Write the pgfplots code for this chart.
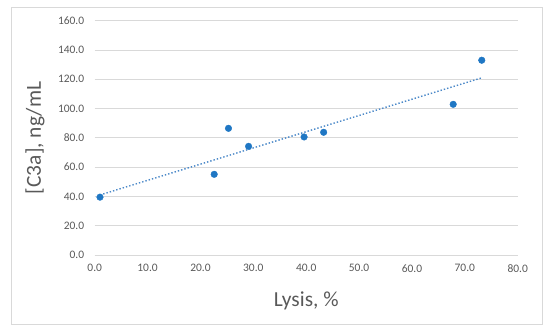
\documentclass[border=0pt]{standalone}
\usepackage{fontspec}
\setmainfont{Carlito}
\usepackage{pgfplots}
\pgfplotsset{compat=1.18}
\definecolor{pt}{HTML}{1F77C4}
\definecolor{trend}{HTML}{4A88C8}
\definecolor{gridc}{HTML}{D9D9D9}
\definecolor{txt}{HTML}{595959}
\begin{document}
\begin{tikzpicture}[x=1bp,y=1bp]
  % page and chart frame
  \path (0,0) rectangle (550,334);
  \draw[gridc, line width=0.8bp] (11,10) rectangle (542,327);
\begin{axis}[
  at={(94.7bp,79bp)}, anchor=origin,
  scale only axis,
  width=423bp, height=234.3bp,
  xmin=0, xmax=80, ymin=0, ymax=160,
  xtick={0,10,...,80}, ytick={0,20,...,160},
  xticklabel={\pgfmathprintnumber[fixed,fixed zerofill,precision=1]{\tick}},
  yticklabel={\pgfmathprintnumber[fixed,fixed zerofill,precision=1]{\tick}},
  /pgf/number format/assume math mode=true,
  ticklabel style={font=\fontsize{11.5}{12}\selectfont, text=txt},
  xticklabel style={yshift=-6bp},
  yticklabel style={xshift=-7bp},
  tick style={draw=none},
  ymajorgrids, grid style={gridc, line width=0.9bp},
  axis line style={draw=none},
  axis x line*=bottom,
  xlabel={Lysis, \%},
  ylabel={[C3a], ng/mL},
  label style={font=\fontsize{21.5}{24}\selectfont, text=txt},
  xlabel style={at={(axis description cs:0.5,0)}, anchor=north, yshift=-33bp},
  ylabel style={at={(axis description cs:-0.11,0.5)}, anchor=south},
  clip=false,
]
  % x baseline
  \draw[gridc, line width=0.9bp] (axis cs:0,0) -- (axis cs:80,0);
  % trendline (linear)
  \addplot[trend, line width=1.4bp, dotted] coordinates {(1,41) (73.2,121)};
  % data
  \addplot[only marks, mark=*, mark size=3.3bp, pt, mark options={draw=pt, fill=pt}]
    coordinates {
      (1.0,39.5) (22.6,55.1) (25.3,86.5) (29.1,74.2)
      (39.6,80.6) (43.3,83.8) (67.8,102.9) (73.2,133.0)
    };
\end{axis}
\end{tikzpicture}
\end{document}
